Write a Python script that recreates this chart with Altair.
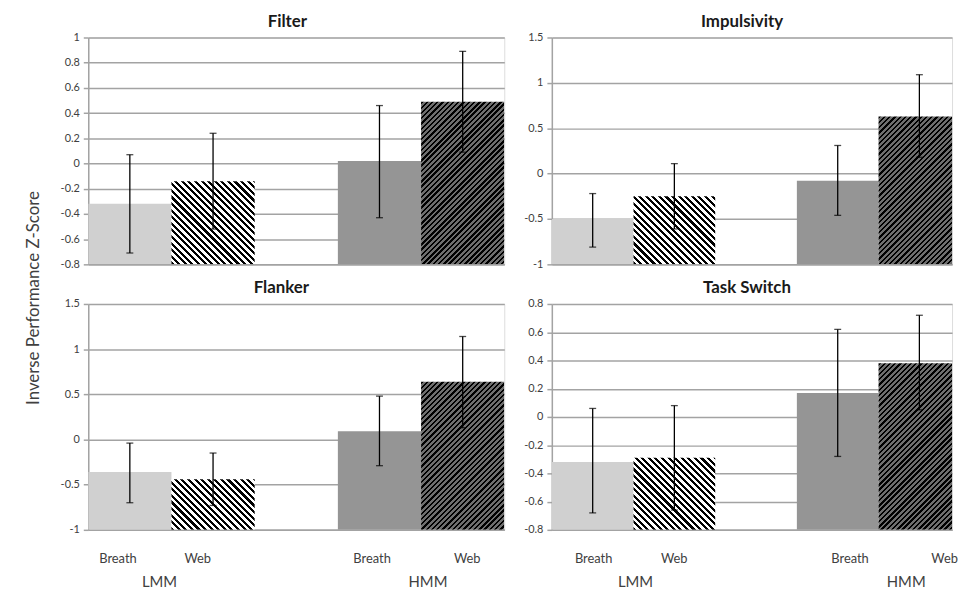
import math
import altair as alt
import pandas as pd

# ---------------- data ----------------
groups = ["LMM", "LMM", "HMM", "HMM"]
conditions = ["Breath", "Web", "Breath", "Web"]

filter_mean = [-0.32, -0.14, 0.02, 0.49]
filter_lo = [-0.71, -0.52, -0.43, 0.09]
filter_hi = [0.07, 0.24, 0.46, 0.89]

impuls_mean = [-0.50, -0.25, -0.08, 0.63]
impuls_lo = [-0.81, -0.61, -0.46, 0.18]
impuls_hi = [-0.22, 0.11, 0.31, 1.09]

flanker_mean = [-0.36, -0.44, 0.09, 0.64]
flanker_lo = [-0.70, -0.73, -0.29, 0.13]
flanker_hi = [-0.04, -0.15, 0.48, 1.14]

task_mean = [-0.32, -0.29, 0.17, 0.38]
task_lo = [-0.68, -0.66, -0.28, 0.05]
task_hi = [0.06, 0.08, 0.62, 0.72]

ticks_filter = [-0.8, -0.6, -0.4, -0.2, 0, 0.2, 0.4, 0.6, 0.8, 1]
ticks_half = [-1, -0.5, 0, 0.5, 1, 1.5]
ticks_task = [-0.8, -0.6, -0.4, -0.2, 0, 0.2, 0.4, 0.6, 0.8]

y_title = "Inverse Performance Z-Score"

# ---------------- style ----------------
FONT = "Lato"
GRID = "#a3a3a3"
LIGHT = "#d0d0d0"
MID = "#959595"
TXT = "#404040"


def hatch_fill(W, H, period, frac, c_line, c_gap, direction):
    s = (W + H) / (W * W + H * H)
    if direction == "back":
        x1, y1, x2, y2 = 0, 1, s * W, 1 - s * H
    else:
        x1, y1, x2, y2 = 0, 0, s * W, s * H
    n_per = (W + H) / (math.sqrt(2) * period)
    stops = []
    k = 0
    while k / n_per < 1:
        a = round(k / n_per, 5)
        b = round(min((k + frac) / n_per, 1), 5)
        c = round(min((k + 1) / n_per, 1), 5)
        stops += [
            {"offset": a, "color": c_line},
            {"offset": b, "color": c_line},
            {"offset": b, "color": c_gap},
            {"offset": c, "color": c_gap},
        ]
        k += 1
    return {"gradient": "linear", "x1": x1, "y1": y1, "x2": x2, "y2": y2, "stops": stops}


def panel(name, mean, lo, hi, ydom, yticks, width, height, xmax, bottom,
          label_x, group_x, title_dx, with_ytitle=False):
    slot = [(0 if g == "LMM" else 3) + (0 if c == "Breath" else 1)
            for g, c in zip(groups, conditions)]
    df = pd.DataFrame({"group": groups, "cond": conditions, "mean": mean,
                       "lo": lo, "hi": hi, "slot": slot})
    df["x2"] = df["slot"] + 1
    df["xc"] = df["slot"] + 0.5
    df["base"] = ydom[0]

    xs = alt.Scale(domain=[0, xmax], nice=False, zero=False)
    ys = alt.Scale(domain=ydom, nice=False, zero=False)
    yaxis = alt.Axis(values=yticks, labelExpr="toString(datum.value)", grid=True,
                     gridColor=GRID, gridWidth=1.5, domainColor=GRID, domainWidth=1.5,
                     tickColor=GRID, tickWidth=1.5, tickSize=5, labelFont=FONT,
                     labelFontSize=11, labelColor=TXT, labelPadding=4, title=None)
    if bottom:
        xaxis = alt.Axis(values=label_x,
                         labelExpr="(datum.value % 3) < 1 ? 'Breath' : 'Web'",
                         ticks=False, grid=False, domainColor=GRID, domainWidth=1.5,
                         labelFont=FONT, labelFontSize=13, labelColor=TXT,
                         labelPadding=23, labelFlush=False, labelOverlap=False, title=None)
    else:
        xaxis = alt.Axis(values=[0], labels=False, ticks=False, grid=False,
                         domainColor=GRID, domainWidth=1.5, title=None)

    base = alt.Chart(df)
    X = lambda f: alt.X(f, scale=xs, axis=xaxis)
    Y = lambda f: alt.Y(f, scale=ys, axis=yaxis)

    layers = []
    layers.append(
        base.transform_filter("datum.cond == 'Breath'")
        .mark_bar(clip=True, strokeWidth=0)
        .encode(x=X("slot:Q"), x2="x2:Q", y=Y("mean:Q"), y2="base:Q",
                color=alt.Color("group:N", scale=alt.Scale(domain=["LMM", "HMM"],
                                range=[LIGHT, MID]), legend=None))
    )
    px_x = width / xmax
    hatch_specs = {
        "LMM": (4.7, 0.47, "#000000", "#ffffff", "back"),
        "HMM": (3.75, 0.45, "#000000", "#6e6e6e", "fwd"),
    }
    for g, (per, frac, cl, cg, d) in hatch_specs.items():
        m = df[(df.group == g) & (df.cond == "Web")]["mean"].iloc[0]
        H = (m - ydom[0]) / (ydom[1] - ydom[0]) * height
        fill = hatch_fill(px_x, H, per, frac, cl, cg, d)
        layers.append(
            base.transform_filter(f"datum.group == '{g}' && datum.cond == 'Web'")
            .mark_bar(fill=fill, clip=True, strokeWidth=0)
            .encode(x=X("slot:Q"), x2="x2:Q", y=Y("mean:Q"), y2="base:Q")
        )
    layers.append(
        base.mark_rule(color="black", strokeWidth=1.3)
        .encode(x=X("xc:Q"), y=Y("lo:Q"), y2="hi:Q")
    )
    for f in ["lo", "hi"]:
        layers.append(
            base.mark_tick(orient="horizontal", color="black", size=7, thickness=1.3)
            .encode(x=X("xc:Q"), y=Y(f"{f}:Q"))
        )
    if bottom:
        gdf = pd.DataFrame({"group": ["LMM", "HMM"], "gx": group_x})
        layers.append(
            alt.Chart(gdf).mark_text(font=FONT, fontSize=15, color=TXT,
                                     baseline="alphabetic")
            .encode(x=X("gx:Q"), y=alt.value(height + 58), text="group:N")
        )
    if with_ytitle:
        tdf = pd.DataFrame({"t": [y_title]})
        layers.append(
            alt.Chart(tdf).mark_text(angle=270, font=FONT, fontSize=17, color=TXT)
            .encode(x=alt.value(-55), y=alt.value(263), text="t:N")
        )
    return alt.layer(*layers).properties(
        width=width, height=height,
        title=alt.TitleParams(name, font=FONT, fontSize=17, fontWeight="bold",
                              color="#1a1a1a", anchor="middle", frame="group",
                              offset=10, dx=title_dx, dy=22, baseline="alphabetic"),
    )


LW, RW = 420, 404
TH, BH = 229, 228

tl = panel("Filter", filter_mean, filter_lo, filter_hi, [-0.8, 1], ticks_filter,
           LW, TH, 5, False, None, None, -9, with_ytitle=True)
tr = panel("Impulsivity", impuls_mean, impuls_lo, impuls_hi, [-1, 1.5], ticks_half,
           RW, TH, 4.9, False, None, None, -10)
bl = panel("Flanker", flanker_mean, flanker_lo, flanker_hi, [-1, 1.5], ticks_half,
           LW, BH, 5, True, [0.351, 1.31, 3.405, 4.548], [0.857, 4.083], -15)
br = panel("Task Switch", task_mean, task_lo, task_hi, [-0.8, 0.8], ticks_task,
           RW, BH, 4.9, True, [0.506, 1.493, 3.645, 4.803], [1.024, 4.339], -5)

chart = (
    alt.concat(tl, tr, bl, br, columns=2, spacing={"row": 40, "column": 48},
               bounds="flush")
    .properties(padding={"left": 16, "top": 1, "right": 0, "bottom": 0},
                background="white")
    .configure_view(stroke=None)
    .configure(font=FONT)
)

chart.save("out.html", embed_options={"renderer": "svg", "actions": False})
